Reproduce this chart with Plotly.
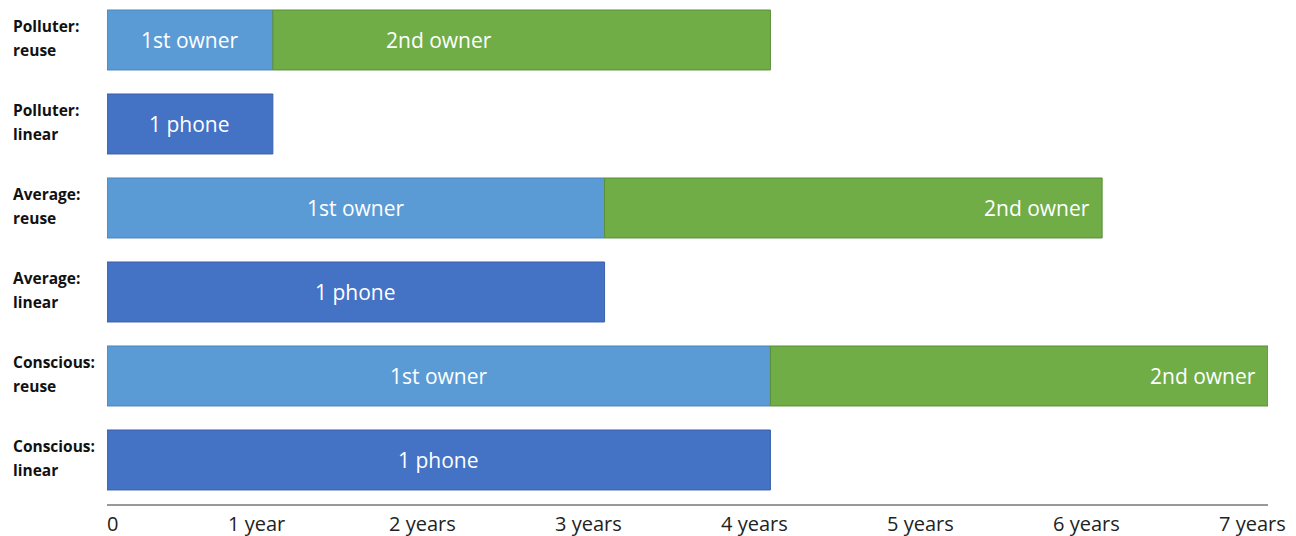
import plotly.graph_objects as go

# Scenario rows, top to bottom
scenario_group = ["Polluter:", "Polluter:", "Average:", "Average:",
                  "Conscious:", "Conscious:"]
scenario_kind = ["reuse", "linear", "reuse", "linear", "reuse", "linear"]
is_reuse = [True, False, True, False, True, False]

# Lifetime in years
first_owner = [1, 0, 3, 0, 4, 0]
second_owner = [3, 0, 3, 0, 3, 0]
single_phone = [0, 1, 0, 3, 0, 4]

tick_years = [0, 1, 2, 3, 4, 5, 6, 7]
tick_labels = ["0", "1 year", "2 years", "3 years", "4 years",
               "5 years", "6 years", "7 years"]

ypos = list(range(len(scenario_kind)))
BAR_W = 0.714
TEXT_FONT = dict(family="Open Sans", size=21, color="white")
ROW_FONT = dict(family="Open Sans", size=15.5, color="#111111")

fig = go.Figure()

def seg(values, base, color, line):
    ys = [y for y, v in zip(ypos, values) if v > 0]
    xs = [v for v in values if v > 0]
    bs = [b for b, v in zip(base, values) if v > 0]
    fig.add_trace(go.Bar(
        y=ys, x=xs, base=bs, orientation="h", width=BAR_W,
        marker=dict(color=color, line=dict(color=line, width=1)),
        showlegend=False, hoverinfo="skip"))

zeros = [0] * len(scenario_kind)
seg(first_owner, zeros, "#5B9BD5", "#4A85BD")
seg(second_owner, first_owner, "#70AD47", "#5A9038")
seg(single_phone, zeros, "#4472C4", "#3A62AA")

annotations = []
for i, y in enumerate(ypos):
    if is_reuse[i]:
        annotations.append(dict(x=first_owner[i] / 2, y=y, text="1st owner",
                                xref="x", yref="y", showarrow=False,
                                font=TEXT_FONT))
        end = first_owner[i] + second_owner[i]
        if i == 0:
            annotations.append(dict(x=first_owner[i] + 1, y=y, text="2nd owner",
                                    xref="x", yref="y", showarrow=False,
                                    font=TEXT_FONT))
        else:
            annotations.append(dict(x=end, y=y, text="2nd owner", xanchor="right",
                                    xshift=-10, xref="x", yref="y",
                                    showarrow=False, font=TEXT_FONT))
    else:
        annotations.append(dict(x=single_phone[i] / 2, y=y, text="1 phone",
                                xref="x", yref="y", showarrow=False,
                                font=TEXT_FONT))
    # two-line row label on the left
    for txt, dy in ((scenario_group[i], 14), (scenario_kind[i], -10)):
        annotations.append(dict(x=-96 / 1161, y=y, xref="paper", yref="y",
                                text="<b>" + txt + "</b>", xanchor="left",
                                yshift=dy, showarrow=False, font=ROW_FONT))

# year labels under the axis line
for v, t in zip(tick_years, tick_labels):
    annotations.append(dict(x=v, y=0, xref="x", yref="paper", text=t,
                            xanchor="center", yanchor="top",
                            xshift=5 if v == 0 else -16, yshift=-3,
                            showarrow=False,
                            font=dict(family="Open Sans", size=20, color="#222222")))

fig.update_layout(
    width=1296, height=536,
    margin=dict(l=107, r=28, t=0, b=31),
    plot_bgcolor="white", paper_bgcolor="white",
    barmode="overlay",
    xaxis=dict(range=[0, 7], showgrid=False, zeroline=False,
               showticklabels=False, showline=False, fixedrange=True),
    yaxis=dict(range=[5.536, -0.476], showgrid=False, zeroline=False,
               showticklabels=False, showline=False, fixedrange=True),
    annotations=annotations,
    shapes=[dict(type="line", xref="x", yref="paper", x0=0, x1=7, y0=0, y1=0,
                 line=dict(color="#333333", width=1))],
)

fig.write_html("out.html")
